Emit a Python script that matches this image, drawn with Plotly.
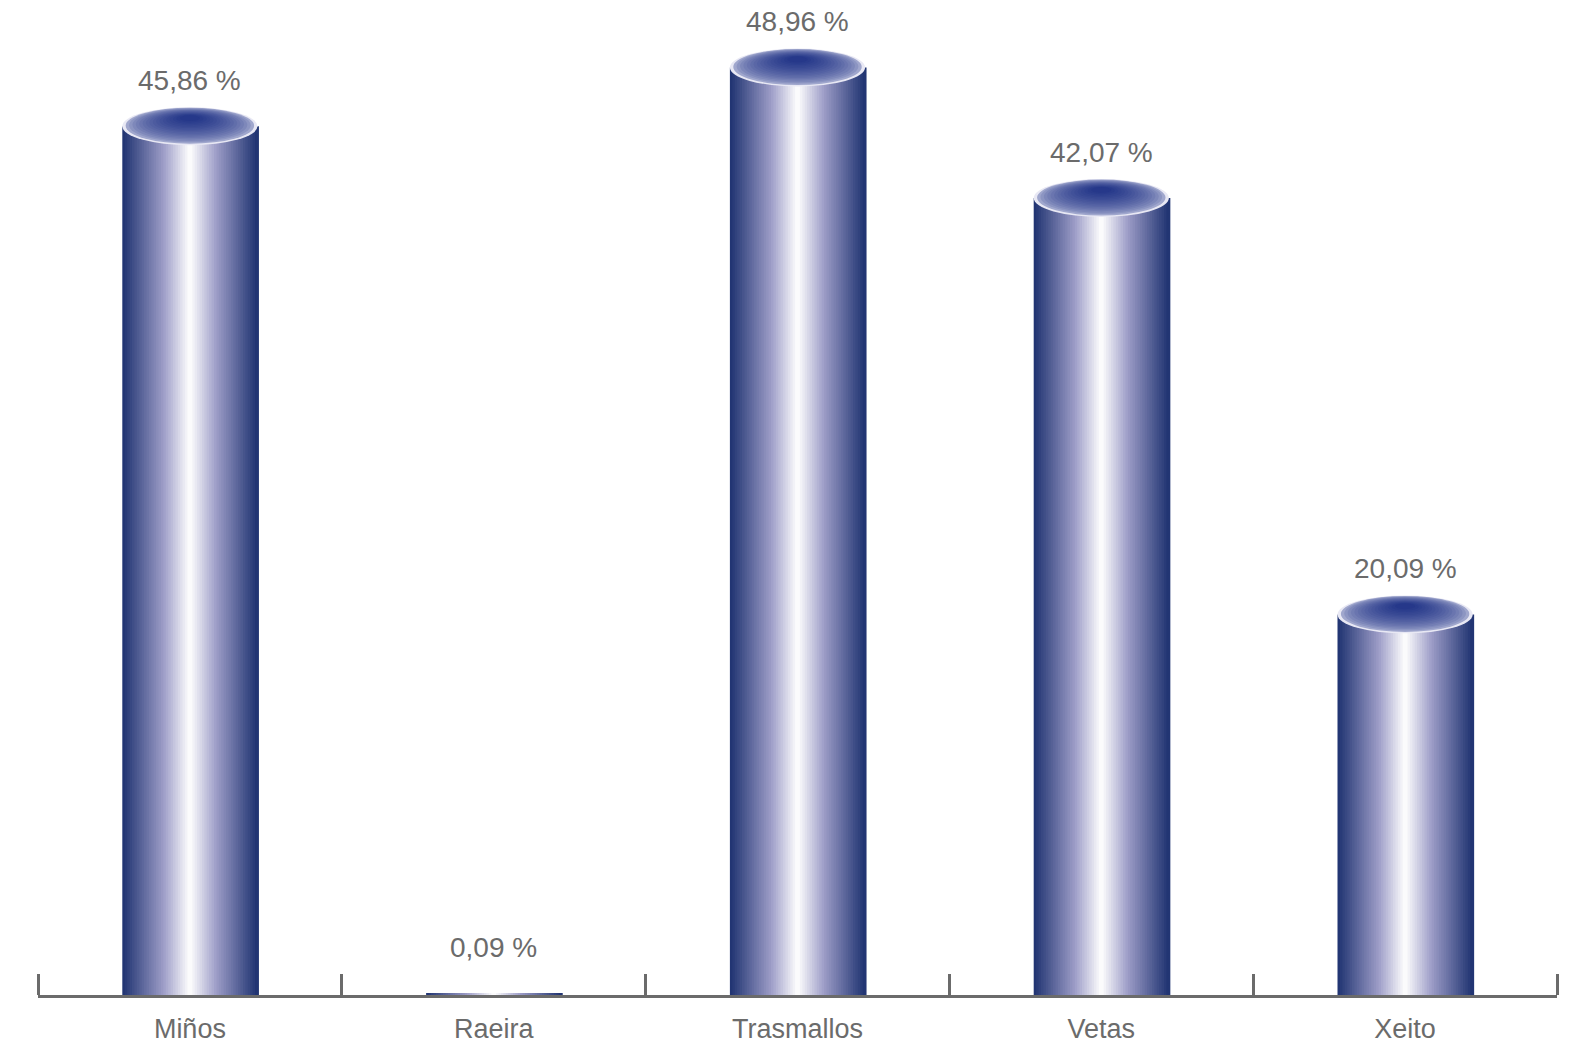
import plotly.graph_objects as go

categories = ["Miños", "Raeira", "Trasmallos", "Vetas", "Xeito"]
values = [45.86, 0.09, 48.96, 42.07, 20.09]
value_labels = ["45,86 %", "0,09 %", "48,96 %", "42,07 %", "20,09 %"]

BAR_W = 0.445
N_STRIPS = 56
DARK = (30, 50, 112)
MID = (155, 155, 198)
GREY = "#6b6b6b"


def mix(c1, c2, t):
    t = max(0.0, min(1.0, t))
    r, g, b = (round(a + (b - a) * t) for a, b in zip(c1, c2))
    return f"rgb({r},{g},{b})"


def strip_color(t):
    # t in [-1, 1] across the cylinder, white highlight in the middle
    light = 1 - abs(t)
    if light < 0.6:
        return mix(DARK, MID, light / 0.6)
    return mix(MID, (255, 255, 255), (light - 0.6) / 0.4)


x_pos = list(range(len(categories)))
fig = go.Figure()

step = BAR_W / N_STRIPS
for k in range(N_STRIPS):
    t = -1 + (k + 0.5) * 2 / N_STRIPS
    fig.add_trace(
        go.Bar(
            x=x_pos,
            y=values,
            width=step * 1.6,
            offset=-BAR_W / 2 + k * step,
            marker=dict(color=strip_color(t), line=dict(width=0)),
            showlegend=False,
            hoverinfo="skip",
        )
    )

# elliptic tops of the cylinders (radial shading, dark near the top)
ELL_H = 1.0
n_layers = 18
for i, v in enumerate(values):
    if v < 1:
        continue
    fx, fy = i, v + 0.5 * ELL_H
    for j in range(n_layers):
        s = 1 - 0.85 * j / (n_layers - 1)
        cx = fx + s * (i - fx)
        cy = fy + s * (v - fy)
        hw = BAR_W / 2 * s
        hh = ELL_H * s
        col = mix((232, 232, 244), (38, 56, 138), (j / (n_layers - 1)) ** 0.35)
        fig.add_shape(
            type="circle",
            xref="x",
            yref="y",
            x0=cx - hw,
            x1=cx + hw,
            y0=cy - hh,
            y1=cy + hh,
            fillcolor=col,
            line=dict(width=0),
        )

for i, (v, lab) in enumerate(zip(values, value_labels)):
    fig.add_annotation(
        x=i,
        y=v,
        text=lab,
        showarrow=False,
        yshift=46,
        font=dict(size=28, color=GREY, family="Liberation Sans"),
    )

fig.update_layout(
    barmode="overlay",
    width=1575,
    height=1053,
    plot_bgcolor="white",
    paper_bgcolor="white",
    margin=dict(l=38, r=18, t=8, b=58),
    font=dict(family="Liberation Sans", color=GREY),
    xaxis=dict(
        range=[-0.5, 4.5],
        tickmode="array",
        tickvals=x_pos,
        ticktext=categories,
        ticks="",
        ticklabelstandoff=8,
        showline=True,
        linecolor=GREY,
        linewidth=3,
        tickfont=dict(size=27, color=GREY),
        showgrid=False,
        zeroline=False,
        minor=dict(
            tickvals=[p - 0.5 for p in x_pos] + [x_pos[-1] + 0.5],
            ticks="inside",
            ticklen=21,
            tickwidth=3,
            tickcolor=GREY,
            showgrid=False,
        ),
    ),
    yaxis=dict(
        range=[0, 52.1],
        visible=False,
        showgrid=False,
        zeroline=False,
    ),
)

fig.write_html(
    "out.html",
    config={"displayModeBar": False},
    post_script="document.body.style.margin='0';",
)
